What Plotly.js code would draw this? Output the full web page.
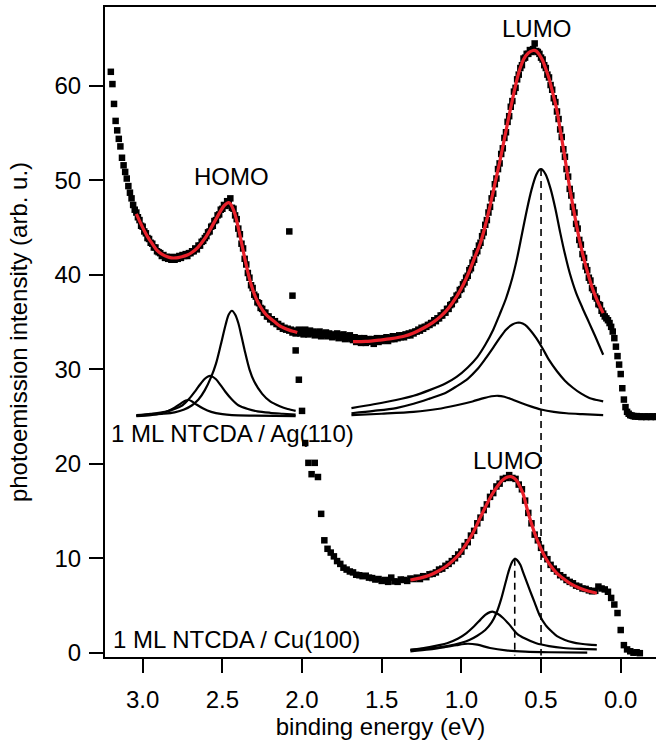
<!DOCTYPE html>
<html>
<head>
<meta charset="utf-8">
<script src="https://cdn.plot.ly/plotly-3.0.1.min.js"></script>
<style>
  html, body { margin: 0; padding: 0; background: #fff; }
  #plot { width: 656px; height: 741px; }
</style>
</head>
<body>
<div id="plot"></div>
<script>
// ---------- measured spectra ----------
// 1 ML NTCDA / Ag(110): uniform 0.01 eV grid starting at 3.20 eV
const agStart = 3.20, agStep = 0.01;
const agIntensity = [
  // 3.20 - 3.05
  61.5, 60.2, 58.1, 56.3, 55.3, 54.4, 53.6, 52.4, 51.6, 50.9, 50.2, 49.4, 48.7, 48.1, 47.4, 46.9,
  // 3.04 - 2.04
  46.6, 46.1, 45.8, 45.2, 45.1, 44.6, 44.4, 43.9, 43.8, 43.4,
  43.3, 42.9, 42.9, 42.5, 42.4, 42.3, 42.0, 42.1, 41.8, 41.9,
  41.7, 41.9, 41.6, 41.8, 41.6, 41.9, 41.7, 42.0, 41.8, 42.1,
  42.0, 42.2, 42.0, 42.3, 42.3, 42.5, 42.5, 42.8, 42.7, 43.1,
  43.1, 43.5, 43.6, 43.9, 44.1, 44.5, 44.6, 45.1, 45.2, 45.7,
  45.8, 46.3, 46.4, 46.9, 47.0, 47.4, 47.3, 47.8, 47.5, 48.1,
  47.1, 47.0, 46.3, 45.9, 44.9, 44.3, 43.3, 42.8, 41.7, 41.1,
  40.2, 39.7, 38.9, 38.6, 37.9, 37.7, 37.1, 37.0, 36.5, 36.4,
  36.0, 36.0, 35.6, 35.6, 35.3, 35.3, 35.0, 35.1, 34.8, 34.8,
  34.5, 34.6, 34.3, 34.4, 34.2, 34.3, 34.1, 34.2, 33.9, 34.1,
  33.8,
  // 2.03 - 1.69
  33.9, 34.2, 33.8, 34.1, 33.7, 34.2, 33.9, 33.7, 34.1, 33.8,
  34.0, 33.6, 33.9, 33.7, 34.0, 33.5, 33.8, 33.6, 33.9, 33.5,
  33.8, 33.6, 33.4, 33.7, 33.5, 33.8, 33.3, 33.6, 33.4, 33.7,
  33.2, 33.5, 33.3, 33.6, 33.2,
  // 1.68 - 0.12
  33.1, 33.4, 32.9, 33.2, 33.3, 32.8, 33.1, 33.3, 32.8, 33.0,
  33.2, 32.9, 33.2, 32.7, 33.1, 33.3, 32.9, 33.2, 33.0, 33.3,
  33.1, 33.4, 33.0, 33.3, 33.2, 33.5, 33.2, 33.4, 33.3, 33.6,
  33.4, 33.6, 33.4, 33.7, 33.6, 33.8, 33.6, 33.9, 33.8, 34.0,
  34.0, 34.2, 34.1, 34.4, 34.3, 34.5, 34.5, 34.7, 34.7, 34.9,
  34.9, 35.2, 35.1, 35.4, 35.4, 35.7, 35.7, 36.0, 36.0, 36.4,
  36.4, 36.8, 36.9, 37.3, 37.4, 37.8, 37.9, 38.4, 38.5, 39.0,
  39.2, 39.7, 39.9, 40.5, 40.7, 41.3, 41.6, 42.3, 42.5, 43.1,
  43.4, 44.1, 44.5, 45.3, 45.8, 46.6, 47.2, 48.1, 48.6, 49.6,
  50.2, 51.2, 51.8, 52.8, 53.4, 54.5, 55.1, 56.2, 56.8, 57.8,
  58.4, 59.4, 59.8, 60.7, 61.2, 61.9, 62.2, 62.9, 63.0, 63.4,
  63.4, 63.8, 63.6, 63.9, 64.5, 63.7, 63.6, 63.4, 63.0, 62.8,
  62.2, 61.9, 61.2, 60.9, 60.1, 59.6, 58.7, 58.3, 57.3, 56.5,
  55.4, 54.6, 53.3, 52.5, 51.2, 50.4, 49.1, 48.4, 47.2, 46.6,
  45.4, 44.9, 43.7, 43.2, 42.2, 41.8, 40.9, 40.5, 39.7, 39.4,
  38.6, 38.4, 37.7, 37.5, 36.9, 36.8, 36.2,
  // 0.11 - -0.23
  35.9, 35.6, 35.4, 35.2, 34.9, 34.5, 34.0, 33.3, 32.4, 31.4,
  30.5, 29.5, 28.0, 26.8, 26.0, 25.5, 25.3, 25.15, 25.1, 25.05,
  25.0, 25.05, 25.0, 25.0, 24.95, 25.0, 25.0, 24.95, 25.0, 25.0,
  24.95, 25.0, 25.0, 24.95, 25.0
];

// 1 ML NTCDA / Cu(100): uniform 0.02 eV grid starting at 2.08 eV
const cuStart = 2.08, cuStep = 0.02;
const cuIntensity = [
  44.6, 37.8, 32.0, 28.9, 25.6, 22.2, 20.1, 18.9, 20.1, 18.6,   // 2.08 - 1.90
  14.7, 11.9, 11.0, 10.6, 10.2, 9.7, 9.4, 9.0, 8.8, 8.6,        // 1.88 - 1.70
  8.5, 8.25, 8.2, 8.1, 8.15, 7.95, 7.9, 7.75, 7.8, 7.6,         // 1.68 - 1.50
  7.7, 7.5, 7.95, 7.55, 7.5, 7.75, 7.7, 7.6, 7.85,              // 1.48 - 1.32
  7.8, 7.95, 7.8, 8.1, 8.0, 8.3, 8.35, 8.5, 8.8, 8.9,           // 1.30 - 1.12
  9.2, 9.4, 9.7, 10.0, 10.4, 10.7, 11.3, 11.7, 12.4, 12.9,      // 1.10 - 0.92
  13.7, 14.3, 15.1, 15.7, 16.5, 16.9, 17.6, 17.9, 18.4, 18.5,   // 0.90 - 0.72
  18.8, 18.5, 18.4, 17.8, 17.3, 16.1, 14.8, 13.7, 12.5, 11.9,   // 0.70 - 0.52
  11.1, 10.4, 9.9, 9.3, 8.9, 8.6, 8.2, 8.0, 7.7, 7.5,           // 0.50 - 0.32
  7.35, 7.1, 7.0, 6.8, 6.75, 6.6, 6.5, 6.55, 7.0, 6.8,          // 0.30 - 0.12
  6.7, 6.45, 5.8, 5.1, 4.2, 2.4,                                // 0.10 - 0.00
  0.8, 0.35, 0.15, 0.0, 0.05, -0.05                             // -0.02 - -0.12
];

// ---------- fitted curves ----------
// Ag(110) HOMO region: envelope and three components
const homoFitE = [3.04,3.00,2.97,2.94,2.91,2.88,2.85,2.82,2.79,2.76,2.72,2.69,2.66,2.63,2.60,2.57,2.54,2.51,2.49,2.47,2.46,2.45,2.44,2.42,2.40,2.38,2.36,2.34,2.32,2.30,2.28,2.26,2.24,2.22,2.20,2.17,2.14,2.11,2.08,2.05,2.03];
const homoFitI = [46.45,45.0,44.05,43.3,42.6,42.2,41.95,41.8,41.8,41.9,42.1,42.4,42.8,43.4,44.1,45.0,45.9,46.8,47.3,47.6,47.65,47.55,47.25,46.4,45.0,43.4,41.8,40.3,39.0,38.0,37.2,36.6,36.1,35.7,35.4,35.0,34.6,34.35,34.15,34.0,33.9];

const homoMainE = [3.04,2.95,2.87,2.80,2.74,2.69,2.65,2.61,2.57,2.54,2.51,2.48,2.46,2.44,2.42,2.40,2.38,2.36,2.33,2.30,2.25,2.20,2.14,2.09,2.04];
const homoMainI = [25.1,25.2,25.3,25.45,25.75,26.2,26.8,27.8,29.2,30.6,32.6,34.7,35.8,36.2,35.8,34.9,33.5,32.0,30.0,28.7,27.4,26.6,26.1,25.8,25.6];

const homoMidE = [3.04,2.95,2.86,2.80,2.75,2.71,2.67,2.64,2.61,2.59,2.575,2.56,2.54,2.51,2.48,2.44,2.40,2.34,2.28,2.20,2.12,2.04];
const homoMidI = [25.15,25.3,25.5,25.8,26.2,26.85,27.7,28.4,29.0,29.25,29.3,29.2,28.95,28.3,27.6,26.8,26.2,25.8,25.55,25.4,25.3,25.2];

const homoLowE = [3.04,2.95,2.89,2.84,2.80,2.76,2.73,2.71,2.69,2.66,2.62,2.57,2.50,2.44,2.30,2.04];
const homoLowI = [25.05,25.15,25.3,25.6,25.95,26.4,26.7,26.75,26.6,26.25,25.85,25.5,25.25,25.15,25.1,25.05];

// Ag(110) LUMO region
const lumoAgFitE = [1.68,1.60,1.51,1.44,1.36,1.30,1.24,1.18,1.13,1.08,1.03,0.99,0.95,0.92,0.88,0.85,0.82,0.79,0.76,0.73,0.70,0.67,0.64,0.61,0.58,0.55,0.53,0.51,0.49,0.47,0.45,0.43,0.40,0.38,0.36,0.34,0.32,0.30,0.28,0.26,0.24,0.22,0.20,0.18,0.16,0.14,0.12,0.11];
const lumoAgFitI = [32.93,32.95,33.1,33.25,33.5,33.85,34.35,34.95,35.6,36.5,37.7,38.9,40.4,41.7,43.4,45.2,47.3,49.6,51.9,54.4,56.9,59.3,61.4,62.8,63.5,63.75,63.7,63.3,62.7,61.8,60.8,59.5,57.4,55.4,53.4,51.3,49.2,47.3,45.5,43.8,42.3,41.0,39.8,38.7,37.8,37.0,36.3,35.95];

const lumoAgMainE = [1.69,1.55,1.41,1.30,1.20,1.10,1.03,0.96,0.90,0.85,0.80,0.76,0.72,0.68,0.65,0.62,0.59,0.56,0.53,0.51,0.50,0.49,0.47,0.44,0.41,0.38,0.35,0.32,0.28,0.24,0.20,0.16,0.11];
const lumoAgMainI = [25.9,26.3,26.75,27.2,27.8,28.5,29.2,30.2,31.3,32.6,34.2,35.8,37.5,39.7,41.8,44.3,46.8,49.0,50.6,51.15,51.2,51.1,50.6,49.1,47.0,44.5,42.2,40.2,38.1,36.5,35.0,33.5,31.55];

const lumoAgMidE = [1.69,1.55,1.41,1.30,1.20,1.10,1.03,0.96,0.90,0.85,0.80,0.76,0.72,0.68,0.65,0.63,0.60,0.57,0.53,0.49,0.45,0.40,0.35,0.30,0.25,0.20,0.15,0.11];
const lumoAgMidI = [25.35,25.6,25.9,26.35,26.9,27.5,28.2,29.0,30.0,31.1,32.3,33.3,34.2,34.75,34.93,34.93,34.7,34.2,33.3,32.2,31.0,29.8,28.8,28.05,27.45,27.0,26.75,26.6];

const lumoAgLowE = [1.69,1.50,1.30,1.15,1.03,0.93,0.86,0.81,0.77,0.73,0.68,0.62,0.56,0.50,0.42,0.34,0.24,0.11];
const lumoAgLowI = [25.15,25.3,25.5,25.8,26.2,26.6,26.95,27.15,27.2,27.1,26.8,26.4,26.05,25.75,25.5,25.35,25.25,25.15];

// Cu(100) LUMO region
const lumoCuFitE = [1.32,1.26,1.20,1.15,1.10,1.05,1.01,0.97,0.93,0.89,0.85,0.81,0.77,0.74,0.71,0.69,0.67,0.65,0.63,0.61,0.59,0.57,0.55,0.53,0.50,0.47,0.44,0.40,0.36,0.31,0.26,0.20,0.15];
const lumoCuFitI = [7.7,7.9,8.2,8.6,9.1,9.8,10.5,11.5,12.6,14.0,15.4,16.7,17.7,18.3,18.6,18.65,18.5,18.15,17.5,16.7,15.4,14.2,13.15,12.2,11.0,10.0,9.2,8.4,7.85,7.25,6.85,6.5,6.3];

const lumoCuMainE = [1.32,1.20,1.09,1.00,0.95,0.90,0.85,0.81,0.78,0.75,0.72,0.70,0.68,0.665,0.65,0.63,0.61,0.59,0.57,0.54,0.51,0.47,0.43,0.40,0.35,0.30,0.25,0.20,0.15];
const lumoCuMainI = [0.3,0.45,0.7,1.05,1.35,1.8,2.4,3.2,4.2,5.7,7.6,8.8,9.65,9.95,9.8,9.3,8.4,7.5,6.6,5.3,4.0,2.9,2.2,1.75,1.35,1.1,0.95,0.85,0.8];

const lumoCuMidE = [1.32,1.20,1.09,1.02,0.97,0.92,0.88,0.85,0.82,0.80,0.77,0.74,0.70,0.65,0.60,0.53,0.45,0.36,0.25,0.15];
const lumoCuMidI = [0.3,0.6,1.0,1.5,2.05,2.8,3.5,4.0,4.3,4.33,4.1,3.7,3.0,2.0,1.5,1.0,0.7,0.5,0.4,0.36];

const lumoCuLowE = [1.32,1.20,1.10,1.03,0.96,0.90,0.82,0.72,0.60,0.45,0.21];
const lumoCuLowI = [0.15,0.35,0.6,0.8,0.95,0.85,0.5,0.25,0.12,0.05,0.0];

// ---------- labels ----------
const labelTexts = ['HOMO', 'LUMO', 'LUMO', '1 ML NTCDA / Ag(110)', '1 ML NTCDA / Cu(100)'];
const xTickVals = [3.0, 2.5, 2.0, 1.5, 1.0, 0.5, 0.0];
const xTickText = ['3.0', '2.5', '2.0', '1.5', '1.0', '0.5', '0.0'];
const yTickVals = [0, 10, 20, 30, 40, 50, 60];

// ---------- drawing ----------
const FONT = 'Liberation Sans, Arial, Helvetica, sans-serif';
const RED = '#e8202a';
const xRange = [3.2366, -0.2215];
const yRange = [-0.455, 68.36];

const grid = (start, step, n) => Array.from({length: n}, (_, i) => +(start - i * step).toFixed(3));
const agEnergy = grid(agStart, agStep, agIntensity.length);
const cuEnergy = grid(cuStart, cuStep, cuIntensity.length);

function dots(x, y) {
  return { x, y, type: 'scatter', mode: 'markers', hoverinfo: 'skip',
           marker: { symbol: 'square', size: 6.5, color: '#000', line: { width: 0 } } };
}
function curve(x, y, color, width) {
  return { x, y, type: 'scatter', mode: 'lines', hoverinfo: 'skip',
           line: { color, width, shape: 'spline', smoothing: 0.8 } };
}
// dashed marker from the top of a component down to the energy axis
function peakLine(e, v) {
  let k = 0;
  v.forEach((val, i) => { if (val > v[k]) k = i; });
  return { x: [e[k], e[k]], y: [v[k], yRange[0] + 0.15], type: 'scatter', mode: 'lines',
           hoverinfo: 'skip', line: { color: '#000', width: 1.6, dash: '7px,5px' } };
}

const traces = [
  peakLine(lumoAgMainE, lumoAgMainI),
  peakLine(lumoCuMainE, lumoCuMainI),
  dots(agEnergy, agIntensity),
  dots(cuEnergy, cuIntensity),
  curve(homoMainE, homoMainI, '#000', 2.2),
  curve(homoMidE, homoMidI, '#000', 2.2),
  curve(homoLowE, homoLowI, '#000', 2.2),
  curve(lumoAgMainE, lumoAgMainI, '#000', 2.2),
  curve(lumoAgMidE, lumoAgMidI, '#000', 2.2),
  curve(lumoAgLowE, lumoAgLowI, '#000', 2.2),
  curve(lumoCuMainE, lumoCuMainI, '#000', 2.2),
  curve(lumoCuMidE, lumoCuMidI, '#000', 2.2),
  curve(lumoCuLowE, lumoCuLowI, '#000', 2.2),
  curve(homoFitE, homoFitI, RED, 3.2),
  curve(lumoAgFitE, lumoAgFitI, RED, 3.2),
  curve(lumoCuFitE, lumoCuFitI, RED, 3.2)
];

const txt = (text, x, y, xanchor) => ({
  text, x, y, xref: 'x', yref: 'y', xanchor: xanchor || 'center', yanchor: 'middle',
  showarrow: false, font: { family: FONT, size: 24, color: '#000' }
});

const layout = {
  width: 656, height: 741,
  margin: { l: 105, r: 0, t: 7, b: 84 },
  paper_bgcolor: '#fff', plot_bgcolor: '#fff',
  showlegend: false,
  font: { family: FONT, size: 24, color: '#000' },
  xaxis: {
    range: xRange, tickvals: xTickVals, ticktext: xTickText,
    ticks: 'outside', ticklen: 14, tickwidth: 2, tickcolor: '#000',
    ticklabelstandoff: 6,
    showline: true, linewidth: 2, linecolor: '#000', mirror: true,
    showgrid: false, zeroline: false,
    tickfont: { family: FONT, size: 24 },
    title: { text: 'binding energy (eV)', font: { family: FONT, size: 24 }, standoff: 6 }
  },
  yaxis: {
    range: yRange, tickvals: yTickVals,
    ticks: 'outside', ticklen: 14, tickwidth: 2, tickcolor: '#000',
    ticklabelstandoff: 3,
    showline: true, linewidth: 2, linecolor: '#000', mirror: false,
    showgrid: false, zeroline: false,
    tickfont: { family: FONT, size: 24 },
    title: { text: 'photoemission intensity (arb. u.)', font: { family: FONT, size: 24 }, standoff: 20 }
  },
  annotations: [
    txt(labelTexts[0], 2.443, 50.4),
    txt(labelTexts[1], 0.527, 66.07),
    txt(labelTexts[2], 0.712, 20.4),
    txt(labelTexts[3], 3.212, 23.2, 'left'),
    txt(labelTexts[4], 3.200, 1.42, 'left')
  ]
};

Plotly.newPlot('plot', traces, layout, { staticPlot: true, displayModeBar: false });
</script>
</body>
</html>
